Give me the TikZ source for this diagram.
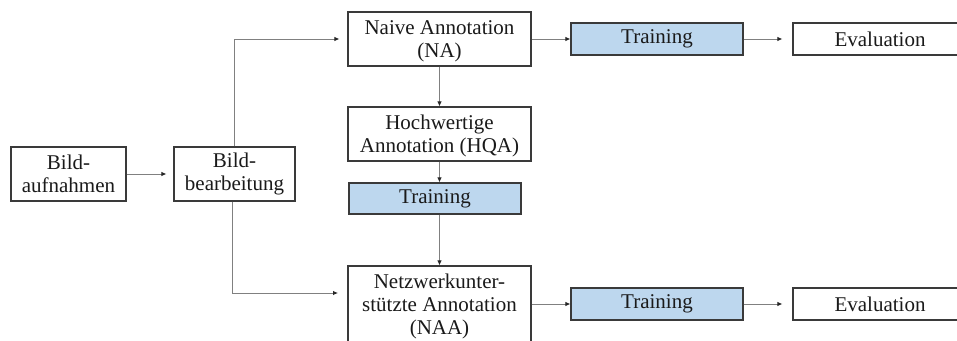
\documentclass[tikz,border=0pt]{standalone}
\usepackage{fontspec}
\setmainfont{Liberation Serif}
\usetikzlibrary{arrows.meta}
\definecolor{boxblue}{HTML}{BDD7EE}
\definecolor{boxline}{HTML}{3A3A3A}
\definecolor{lineg}{HTML}{808080}
\definecolor{textc}{HTML}{1A1A1A}
\begin{document}
\begin{tikzpicture}[x=1pt,y=-1pt,
  font=\fontsize{21}{23}\selectfont,
  box/.style={draw=boxline, line width=1.2pt, fill=white, inner sep=0pt, align=center, text=textc},
  trainbox/.style={box, fill=boxblue},
  conn/.style={draw=lineg, line width=0.9pt, -{Latex[length=5pt,width=4.5pt,color=black!85]}}]
\clip (0,0) rectangle (957,340);
\fill[white] (0,0) rectangle (957,340);
\node[box, minimum width=115pt, minimum height=54pt] (ba) at (68.5,174) {Bild-\\aufnahmen};
\node[box, minimum width=121pt, minimum height=54pt] (bb) at (234.5,174) {Bild-\\bearbeitung};
\node[box, minimum width=183pt, minimum height=54pt, text depth=0pt] (na) at (439.5,39) {Naive Annotation\\(NA)};
\node[box, minimum width=183pt, minimum height=54pt, text depth=0pt] (hqa) at (439.5,134) {Hochwertige\\Annotation (HQA)};
\node[trainbox, minimum width=172pt, minimum height=31pt] (tm) at (435,198.5) {Training};
\node[box, minimum width=183pt, minimum height=80pt] (naa) at (439.5,306) {Netzwerkunter-\\stützte Annotation\\(NAA)};
\node[trainbox, minimum width=172pt, minimum height=32pt] (tt) at (657,39) {Training};
\node[box, minimum width=174pt, minimum height=32pt] (et) at (880,39) {Evaluation};
\node[trainbox, minimum width=172pt, minimum height=32pt] (tb) at (657,304) {Training};
\node[box, minimum width=174pt, minimum height=32pt] (eb) at (880,304) {Evaluation};
\coordinate (naain) at (348,293);
\draw[conn, shorten >=7pt] (ba.east) -- (bb.west);
\draw[conn, shorten >=8pt] (bb.north) |- (na.west);
\draw[conn, shorten >=10pt] ([xshift=-2.5pt]bb.south) |- (naain);
\draw[conn] (na.south) -- (hqa.north);
\draw[conn] (hqa.south) -- (hqa.south |- tm.north);
\draw[conn] (hqa.south |- tm.south) -- (naa.north);
\draw[conn] (na.east) -- (tt.west);
\draw[conn, shorten >=10pt] (tt.east) -- (et.west);
\draw[conn] (tb.west -| naa.east) -- (tb.west);
\draw[conn, shorten >=10pt] (tb.east) -- (eb.west);
\end{tikzpicture}
\end{document}
